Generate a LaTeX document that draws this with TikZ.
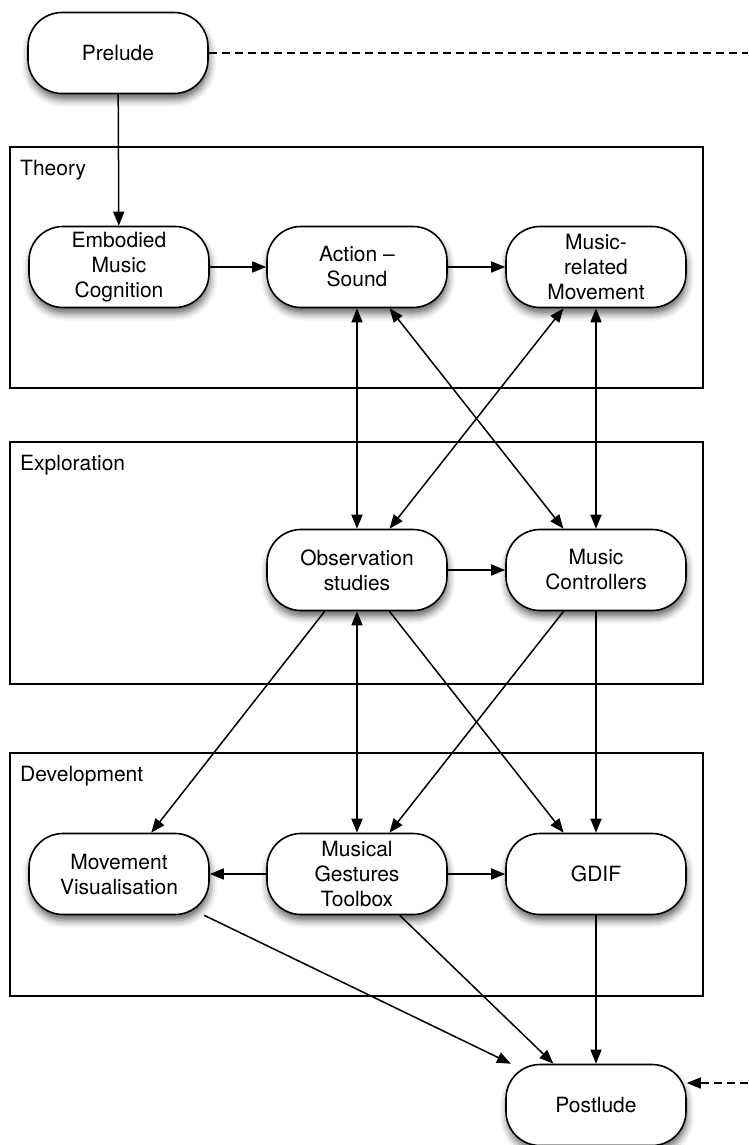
\documentclass[tikz,border=0pt]{standalone}
\usepackage{fontspec}
\setmainfont{TeX Gyre Heros}
\usetikzlibrary{arrows.meta,shadows.blur}

\begin{document}
\begin{tikzpicture}[x=1pt,y=-1pt,>={Triangle[length=14pt,width=11pt]},
  stage/.style={draw,line width=1.6pt,rounded corners=34pt,fill=white,
    minimum width=180pt,minimum height=81pt,align=center,inner sep=2pt,
    font=\fontsize{21}{25}\selectfont,
    blur shadow={shadow xshift=1pt,shadow yshift=-6pt,shadow blur radius=7pt,shadow opacity=60}},
  part/.style={draw,line width=1.6pt},
  partlabel/.style={anchor=base west,inner sep=0pt,font=\fontsize{21}{25}\selectfont},
  conn/.style={line width=1.5pt}]
  \useasboundingbox (0,0) rectangle (748,1145);

  \coordinate (preEnd) at (748,53);
  \coordinate (postEnd) at (748,1083);

  % Parts
  \draw[part] (10,147) rectangle (703,388);
  \draw[part] (10,442) rectangle (703,684);
  \draw[part] (10,753) rectangle (703,996);
  \node[partlabel] at (20,175) {Theory};
  \node[partlabel] at (20,470) {Exploration};
  \node[partlabel] at (20,781) {Development};

  % Chapters
  \node[stage] (prelude) at (118,53) {Prelude};
  \node[stage] (emc) at (119,267) {Embodied\\Music\\Cognition};
  \node[stage] (act) at (357,267) {Action --\\Sound};
  \node[stage] (mrm) at (596,267) {Music-\\related\\Movement};
  \node[stage] (obs) at (357,570) {Observation\\studies};
  \node[stage] (ctrl) at (596,570) {Music\\Controllers};
  \node[stage] (vis) at (119,874) {Movement\\Visualisation};
  \node[stage] (mgt) at (357,874) {Musical\\Gestures\\Toolbox};
  \node[stage] (gdif) at (596,874) {GDIF};
  \node[stage] (postlude) at (596,1105) {Postlude};

  % Theory
  \draw[conn,->] (prelude) -- (emc);
  \draw[conn,->] (emc) -- (act);
  \draw[conn,->] (act) -- (mrm);
  \draw[conn,<->] (act) -- (obs);
  \draw[conn,<->] (act) -- (ctrl);
  \draw[conn,<->] (mrm) -- (obs);
  \draw[conn,<->] (mrm) -- (ctrl);

  % Exploration
  \draw[conn,->] (obs) -- (ctrl);
  \draw[conn,->] (obs) -- (vis);
  \draw[conn,<->] (obs) -- (mgt);
  \draw[conn,->] (obs) -- (gdif);
  \draw[conn,->] (ctrl) -- (mgt);
  \draw[conn,->] (ctrl) -- (gdif);

  % Development
  \draw[conn,->] (mgt) -- (vis);
  \draw[conn,->] (mgt) -- (gdif);
  \draw[conn,->] (vis) -- (postlude);
  \draw[conn,->] (mgt) -- (postlude);
  \draw[conn,->] (gdif) -- (postlude);

  % Outside links
  \draw[conn,dash pattern=on 8pt off 5pt] (prelude) -- (preEnd);
  \draw[conn,dash pattern=on 8pt off 5pt,->] (postEnd) -- (postEnd -| postlude.east);
\end{tikzpicture}
\end{document}
